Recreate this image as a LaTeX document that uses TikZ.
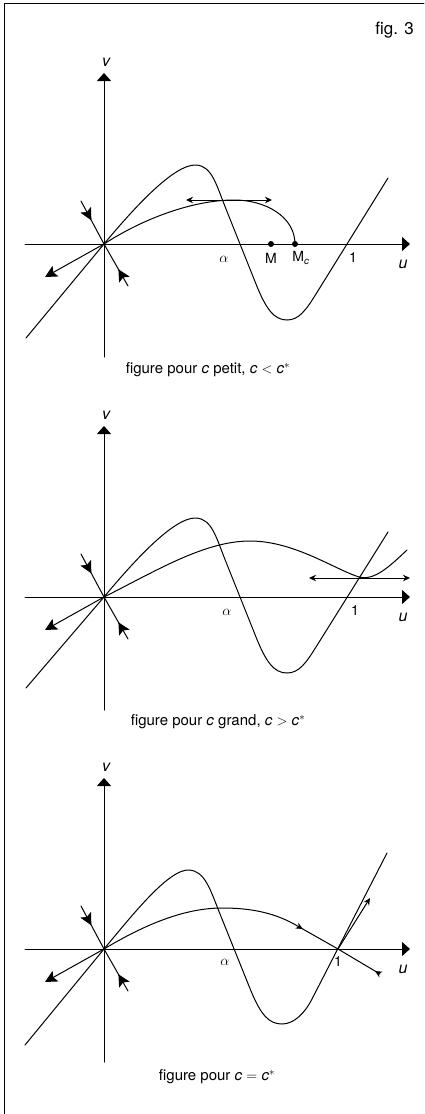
\documentclass[tikz,border=0pt]{standalone}
\usepackage{fontspec}
\setmainfont{TeX Gyre Heros}
\usetikzlibrary{arrows.meta,decorations.markings}
\tikzset{axisline/.style={line width=1pt,-{Triangle[length=8pt,width=14pt]}},
  orbit/.style={line width=1pt},
  bigtip/.style={orbit,-{Stealth[length=12pt,width=12pt,inset=2.5pt]}},
  smalltip/.style={orbit,-{Stealth[length=7pt,width=6.5pt]}},
  smallboth/.style={orbit,{Stealth[length=7pt,width=6.5pt]}-{Stealth[length=7pt,width=6.5pt]}},
  flowin/.style={orbit,postaction={decorate},decoration={markings,
      mark=at position #1 with {\arrow{Stealth[length=12pt,width=12pt,inset=2.5pt]}}}},
  smallflow/.style={orbit,postaction={decorate},decoration={markings,
      mark=at position #1 with {\arrow{Stealth[length=7pt,width=6.5pt]}}}},
  lbl/.style={font=\fontsize{14}{16}\selectfont,inner sep=0pt},
  axlbl/.style={font=\fontsize{16}{18}\selectfont\itshape,inner sep=0pt},
  legend/.style={font=\fontsize{15}{18}\selectfont,inner sep=0pt}}

\begin{document}
\begin{tikzpicture}[x=1pt,y=-1pt,line cap=round]
  \useasboundingbox (0,0) rectangle (424,1114);
  \draw[line width=0.9pt] (4.5,1114) -- (4.5,3) -- (424,3);
  \node[legend,font=\fontsize{17}{20}\selectfont,anchor=east] (fig) at (414,30) {fig. 3};
  \foreach \oy/\p in {244/a,597/b,949/c}{
    \begin{scope}[shift={(104,\oy)}]
      \coordinate (O\p) at (0,0);
      \draw[axisline] (-79,0) -- (306,0);
      \draw[axisline] (0,113) -- (0,-171);
      \node[axlbl] (v\p) at (2,-182) {v};
      \node[axlbl] (u\p) at (299,20) {u};
      \draw[flowin=0.45] (-23,-43) -- (O\p);
      \draw[flowin=0.4] (24,42) -- (O\p);
      \draw[bigtip] (O\p) -- (-59,33);
    \end{scope}
  }
  % c petit
  \begin{scope}[shift={(104,244)}]
    \draw[orbit] (-78,94) -- (Oa) .. controls (30,-36) and (70,-80) .. (92,-79)
      .. controls (108,-78) and (112,-60) .. (122,-35) -- (152,40)
      .. controls (162,65) and (170,76) .. (183,76)
      .. controls (195,76) and (202,66) .. (212,50) -- (284,-66);
    \coordinate (M) at (167,0);
    \coordinate (Mc) at (191,0);
    \draw[orbit] (Oa) .. controls (40,-26) and (90,-44) .. (130,-44)
      .. controls (162,-44) and (191,-27) .. (Mc);
    \coordinate (ha) at (82,-44);
    \coordinate (hb) at (168,-44);
    \draw[smallboth] (ha) -- (hb);
    \fill (M) circle (3);
    \fill (Mc) circle (3);
    \node[lbl] (alpha1) at (120,15) {$\alpha$};
    \node[lbl] (Mlbl) at (167,14) {M};
    \node[lbl] (Mclbl) at (197,14) {M\textsubscript{\textit{c}}};
    \node[lbl] (one1) at (249,14) {1};
  \end{scope}
  \node[legend] (cap1) at (208,370) {figure pour \textit{c} petit, \textit{c} $<$ \textit{c}$^{*}$};
  % c grand
  \begin{scope}[shift={(104,597)}]
    \draw[orbit] (-78,91) -- (Ob) .. controls (30,-36) and (70,-80) .. (92,-79)
      .. controls (108,-78) and (112,-60) .. (122,-35) -- (152,40)
      .. controls (162,65) and (170,76) .. (183,76)
      .. controls (195,76) and (202,66) .. (212,50) -- (284,-65);
    \draw[orbit] (Ob) .. controls (50,-25) and (100,-56) .. (146,-56)
      .. controls (190,-56) and (230,-28) .. (255,-20)
      .. controls (270,-16) and (285,-30) .. (303,-47);
    \coordinate (ka) at (205,-19);
    \coordinate (kb) at (306,-19);
    \draw[smallboth] (ka) -- (kb);
    \node[lbl] (alpha2) at (123,15) {$\alpha$};
    \node[lbl] (one2) at (251,14) {1};
  \end{scope}
  \node[legend] (cap2) at (218,722) {figure pour \textit{c} grand, \textit{c} $>$ \textit{c}$^{*}$};
  % c = c*
  \begin{scope}[shift={(104,949)}]
    \coordinate (S) at (234,0);
    \draw[orbit] (-79,96) -- (Oc) .. controls (30,-36) and (65,-80) .. (85,-79)
      .. controls (101,-78) and (106,-60) .. (116,-35) -- (147,42)
      .. controls (157,66) and (165,75) .. (178,75)
      .. controls (190,75) and (201,64) .. (208,50) -- (283,-96);
    \coordinate (T) at (190,-25);
    \coordinate (E) at (276,25);
    \coordinate (W) at (266,-51);
    \draw[orbit] (Oc) .. controls (40,-24) and (80,-41) .. (118,-41)
      .. controls (145,-41) and (168,-37) .. (T);
    \draw[smallflow=0.2] (T) -- (S);
    \draw[smallflow=0.12] (E) -- (S);
    \draw[smalltip] (S) -- (W);
    \node[lbl] (alpha3) at (121,13) {$\alpha$};
    \node[lbl] (one3) at (234,13) {1};
  \end{scope}
  \node[legend] (cap3) at (217,1077) {figure pour \textit{c} $=$ \textit{c}$^{*}$};
\end{tikzpicture}
\end{document}
